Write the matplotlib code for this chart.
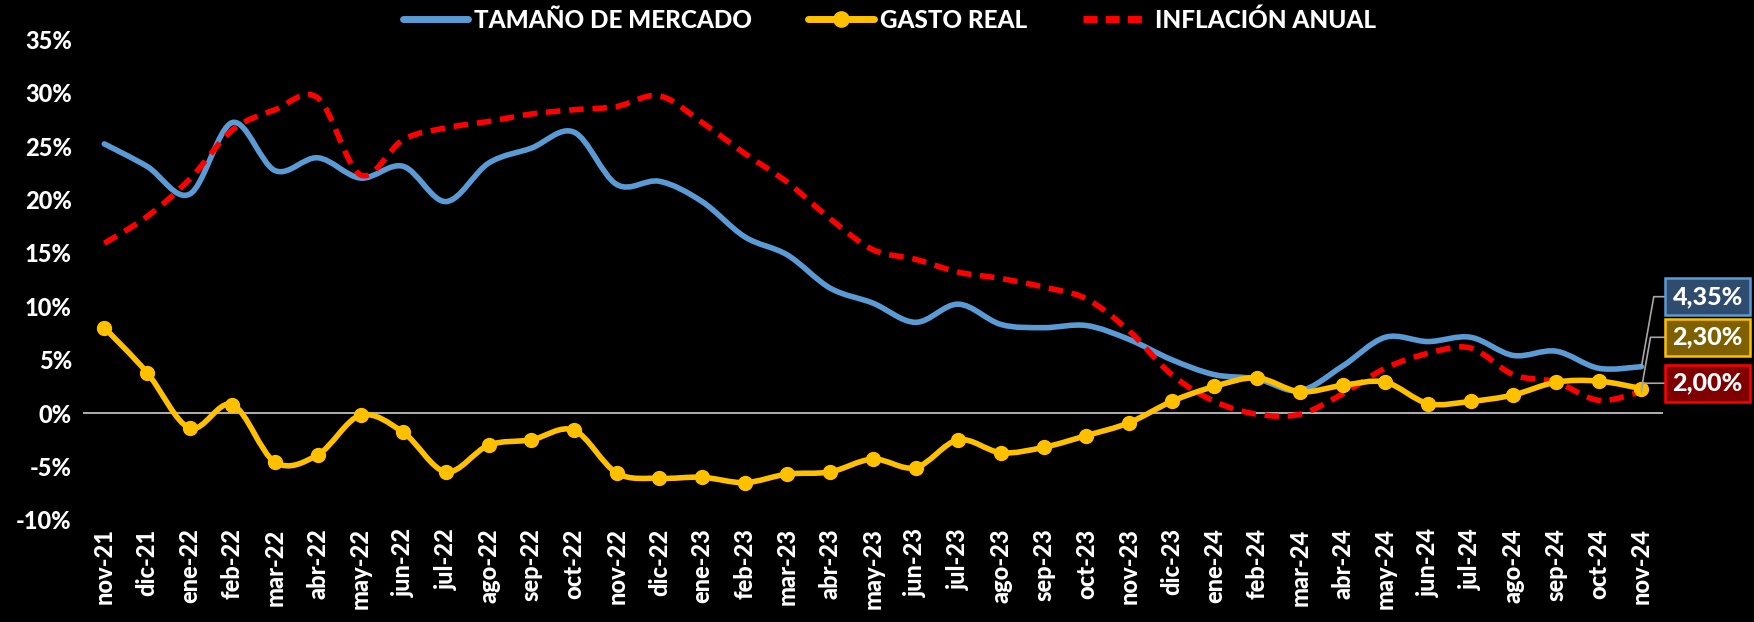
import matplotlib
matplotlib.use("Agg")
import matplotlib.pyplot as plt
from matplotlib.path import Path
from matplotlib.patches import PathPatch
from matplotlib.lines import Line2D
import numpy as np

months = ['nov-21','dic-21','ene-22','feb-22','mar-22','abr-22','may-22','jun-22','jul-22',
          'ago-22','sep-22','oct-22','nov-22','dic-22','ene-23','feb-23','mar-23','abr-23',
          'may-23','jun-23','jul-23','ago-23','sep-23','oct-23','nov-23','dic-23','ene-24',
          'feb-24','mar-24','abr-24','may-24','jun-24','jul-24','ago-24','sep-24','oct-24','nov-24']

tamano = [25.2, 23.1, 20.5, 27.2, 22.7, 23.9, 22.0, 23.1, 19.8, 23.4, 24.8, 26.3,
          21.4, 21.7, 19.8, 16.5, 14.8, 11.7, 10.3, 8.5, 10.2, 8.3, 8.0, 8.2,
          6.9, 5.0, 3.6, 3.2, 2.1, 4.4, 7.1, 6.7, 7.1, 5.4, 5.8, 4.2, 4.35]

gasto = [8.0, 3.8, -1.4, 0.8, -4.6, -3.9, -0.2, -1.8, -5.5, -3.0, -2.5, -1.6,
         -5.6, -6.1, -6.0, -6.5, -5.7, -5.5, -4.3, -5.1, -2.5, -3.7, -3.2, -2.1,
         -0.9, 1.1, 2.5, 3.3, 2.0, 2.6, 2.9, 0.9, 1.1, 1.7, 2.9, 3.0, 2.3]

inflacion = [15.9, 18.4, 21.9, 26.5, 28.4, 29.5, 22.3, 25.6, 26.7, 27.3, 28.0, 28.4,
             28.7, 29.7, 27.2, 24.3, 21.6, 18.2, 15.3, 14.4, 13.2, 12.6, 11.8, 10.7,
             7.7, 3.6, 1.1, -0.1, -0.1, 1.8, 4.2, 5.6, 6.1, 3.6, 2.9, 1.2, 2.0]

series_names = ['TAMAÑO DE MERCADO', 'GASTO REAL', 'INFLACIÓN ANUAL']
end_labels = ['4,35%', '2,30%', '2,00%']
yticks = [-10, -5, 0, 5, 10, 15, 20, 25, 30, 35]

BLUE = '#5B9BD5'
GOLD = '#FFC000'
RED = '#FF0000'
FONT = ['Lato', 'DejaVu Sans']
W = 'black'

plt.rcParams['font.family'] = FONT


def smooth_path(x, y):
    """Cubic Bezier path through the points (Catmull-Rom style, like Excel smoothing)."""
    p = np.column_stack([x, y]).astype(float)
    n = len(p)
    verts = [p[0]]
    codes = [Path.MOVETO]
    for i in range(n - 1):
        p0 = p[i - 1] if i > 0 else p[i]
        p1 = p[i]
        p2 = p[i + 1]
        p3 = p[i + 2] if i + 2 < n else p[i + 1]
        c1 = p1 + (p2 - p0) / 6.0
        c2 = p2 - (p3 - p1) / 6.0
        verts += [c1, c2, p2]
        codes += [Path.CURVE4] * 3
    return Path(verts, codes)


fig = plt.figure(figsize=(17.54, 6.22), dpi=100, facecolor='black')
ax = fig.add_axes([0.0473, 0.164, 0.9007, 0.773])
ax.set_facecolor('black')

x = np.arange(len(months))

ax.add_patch(PathPatch(smooth_path(x, tamano), fill=False, edgecolor=BLUE, lw=4.0,
                       capstyle='round', joinstyle='round', zorder=2))
ax.add_patch(PathPatch(smooth_path(x, inflacion), fill=False, edgecolor=RED, lw=4.0,
                       linestyle=(0, (2.6, 1.6)), zorder=3))
ax.add_patch(PathPatch(smooth_path(x, gasto), fill=False, edgecolor=GOLD, lw=4.0,
                       capstyle='round', joinstyle='round', zorder=4))
ax.plot(x, gasto, linestyle='none', marker='o', markersize=10, color=GOLD, zorder=5)

ax.axhline(0, color='#BFBFBF', lw=1.3, zorder=1)

ax.set_xlim(-0.5, len(months) - 0.5)
ax.set_ylim(-10, 35)
ax.set_yticks(yticks)
ax.set_yticklabels([f'{v}%' for v in yticks])
ax.set_xticks(x)
ax.set_xticklabels(months, rotation=90)
for lab in ax.get_yticklabels() + ax.get_xticklabels():
    lab.set_color('white')
    lab.set_fontweight(W)
    lab.set_fontsize(17)
ax.tick_params(axis='both', length=0, pad=8)
ax.tick_params(axis='x', pad=6)
for s in ax.spines.values():
    s.set_visible(False)

# end labels
last = len(months) - 1
box_styles = [(tamano[-1], 10.9, '#2F4B6E', BLUE),
              (gasto[-1], 7.1, '#7F6000', GOLD),
              (inflacion[-1], 2.8, '#7F0000', RED)]
for text, (yv, yt, fc, ec) in zip(end_labels, box_styles):
    ax.annotate(text, xy=(last, yv), xytext=(37.55, yt), textcoords='data',
                ha='center', va='center', color='white', fontsize=18, fontweight=W,
                annotation_clip=False,
                bbox=dict(boxstyle='square,pad=0.28', fc=fc, ec=ec, lw=1.8),
                arrowprops=dict(arrowstyle='-', color='#A6A6A6', lw=1.2, shrinkA=0, shrinkB=0,
                                connectionstyle='angle,angleA=0,angleB=80,rad=0'),
                zorder=6)

handles = [Line2D([], [], color=BLUE, lw=5, solid_capstyle='round'),
           Line2D([], [], color=GOLD, lw=5, marker='o', markersize=11, solid_capstyle='round'),
           Line2D([], [], color=RED, lw=5, linestyle=(0, (2.0, 1.2)))]
leg = fig.legend(handles, series_names, loc='center', bbox_to_anchor=(0.507, 0.968), ncol=3,
                 frameon=False, handlelength=2.7, columnspacing=2.3, handletextpad=0.25,
                 numpoints=1, prop={'family': FONT, 'weight': W, 'size': 17.5})
for t in leg.get_texts():
    t.set_color('white')

fig.savefig('out.png', dpi=100, facecolor='black')
